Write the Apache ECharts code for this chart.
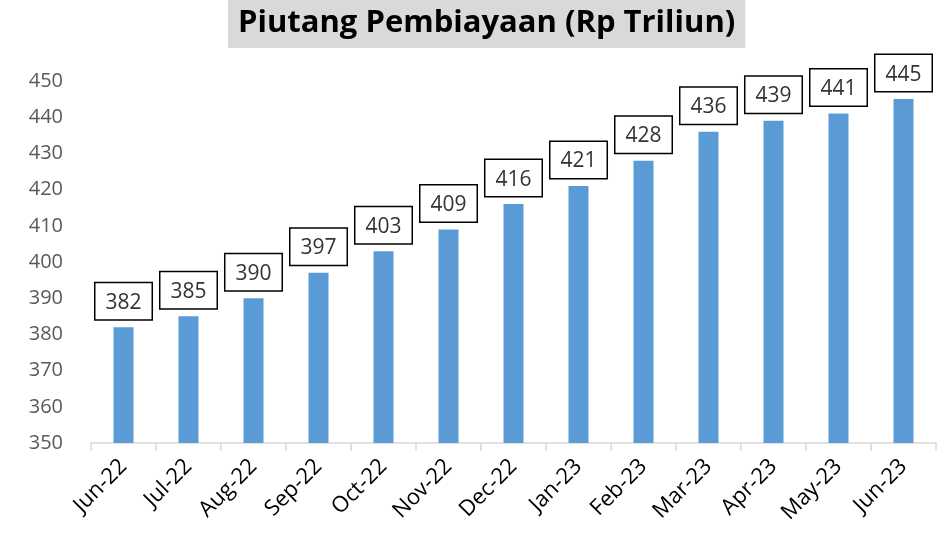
<!DOCTYPE html>
<html>
<head>
<meta charset="utf-8">
<script src="https://cdn.jsdelivr.net/npm/echarts@6/dist/echarts.min.js"></script>
<style>
  html, body { margin: 0; padding: 0; background: #fff; }
  #chart { width: 946px; height: 533px; }
</style>
</head>
<body>
<div id="chart"></div>
<script>
const months = ['Jun-22', 'Jul-22', 'Aug-22', 'Sep-22', 'Oct-22', 'Nov-22', 'Dec-22',
  'Jan-23', 'Feb-23', 'Mar-23', 'Apr-23', 'May-23', 'Jun-23'];
const piutang = [382, 385, 390, 397, 403, 409, 416, 421, 428, 436, 439, 441, 445];

const font = '"Open Sans", "Noto Sans", sans-serif';
const chart = echarts.init(document.getElementById('chart'));

chart.setOption({
  animation: false,
  backgroundColor: '#fff',
  title: {
    text: 'Piutang Pembiayaan (Rp Triliun)',
    left: 228,
    top: 0,
    backgroundColor: '#D9D9D9',
    padding: [8, 10, 9, 10],
    textStyle: { fontFamily: font, fontSize: 31, fontWeight: 'bold', color: '#000' }
  },
  grid: { left: 91, right: 10, top: 81, bottom: 90, containLabel: false },
  xAxis: {
    type: 'category',
    data: months,
    axisLine: { lineStyle: { color: '#D9D9D9', width: 1.5 } },
    axisTick: { show: true, length: 8, lineStyle: { color: '#D9D9D9', width: 1.5 } },
    axisLabel: {
      rotate: 45,
      interval: 0,
      margin: 20,
      fontFamily: font,
      fontSize: 22,
      color: '#000'
    }
  },
  yAxis: {
    type: 'value',
    min: 350,
    max: 450,
    interval: 10,
    axisLine: { show: false },
    axisTick: { show: false },
    splitLine: { show: false },
    axisLabel: { fontFamily: font, fontSize: 20, color: '#595959', margin: 28 }
  },
  series: [{
    type: 'bar',
    data: piutang,
    barWidth: 20,
    itemStyle: { color: '#5B9BD5' },
    label: {
      show: true,
      position: 'top',
      distance: 8,
      backgroundColor: '#fff',
      borderColor: '#000',
      borderWidth: 1.5,
      padding: [9, 10, 6, 10],
      fontFamily: font,
      fontSize: 21,
      color: '#333'
    }
  }]
});
</script>
</body>
</html>
